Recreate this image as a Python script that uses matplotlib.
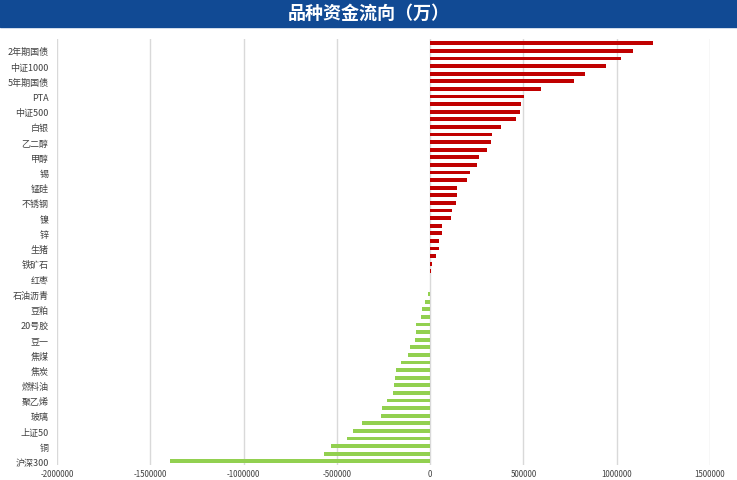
# Fund flow by product (bar chart) ------------------------------------

import numpy as np
import matplotlib.pyplot as plt
from matplotlib.patches import Rectangle


# Data (top to bottom as drawn) ---------------------------------------

# only every other category carries a visible label in the chart
names = ["", "2年期国债", "", "中证1000", "", "5年期国债", "", "PTA",
         "", "中证500", "", "白银", "", "乙二醇", "", "甲醇",
         "", "锡", "", "锰硅", "", "不锈钢", "", "镍",
         "", "锌", "", "生猪", "", "铁矿石", "", "红枣",
         "", "石油沥青", "", "豆粕", "", "20号胶", "", "豆一",
         "", "焦煤", "", "焦炭", "", "燃料油", "", "聚乙烯",
         "", "玻璃", "", "上证50", "", "铜", "", "沪深300"]

flows = [1195000, 1086000, 1022000, 943000, 830000, 770000, 595000, 504000,
         489000, 479000, 461000, 380000, 332000, 327000, 304000, 261000,
         250000, 213000, 195000, 146000, 143000, 139000, 118000, 113000,
         64000, 62000, 48000, 48000, 30000, 11000, 6000, 1000,
         -1000, -11000, -27000, -43000, -48000, -75000, -75000, -80000,
         -107000, -118000, -155000, -182000, -188000, -193000, -198000, -230000,
         -257000, -263000, -364000, -413000, -445000, -530000, -568000, -1393000]

x_ticks = [-2000000, -1500000, -1000000, -500000, 0, 500000, 1000000, 1500000]

title = "品种资金流向（万）"


# Program -------------------------------------------------------------

plt.rcParams['font.family'] = ['Noto Sans CJK SC', 'DejaVu Sans']

# barh draws from the bottom up
labels = names[::-1]
values = np.array(flows[::-1])
pos = np.arange(len(values))
colors = np.where(values >= 0, "#C00000", "#92D050")

fig = plt.figure(figsize=(7.37, 4.81), dpi=100)

# title band
fig.patches.append(Rectangle((0, 1 - 28 / 481), 1, 28 / 481,
                             transform=fig.transFigure, color="#114A94",
                             zorder=0))
fig.text(0.5, 1 - 13 / 481, title, color="white", fontsize=13,
         fontweight="bold", ha="center", va="center")

ax = fig.add_axes([57 / 737, 1 - 466 / 481, 653 / 737, 425.6 / 481])

ax.barh(pos, values, height=0.5, color=colors, zorder=3)

ax.set_xlim(x_ticks[0], x_ticks[-1])
ax.set_ylim(-0.5, len(values) - 0.5)

ax.set_xticks(x_ticks)
ax.set_xticklabels([str(t) for t in x_ticks], fontsize=5.7, color="#404040")

shown = [i for i in pos if labels[i] != ""]
ax.set_yticks(shown)
ax.set_yticklabels([labels[i] for i in shown], fontsize=6.5, color="#404040")

ax.tick_params(axis="x", length=0, pad=3)
ax.tick_params(axis="y", length=0, pad=6)

ax.grid(axis="x", color="#D9D9D9", linewidth=1, zorder=0)
for side in ax.spines.values():
    side.set_visible(False)

fig.savefig("out.png", dpi=100)
